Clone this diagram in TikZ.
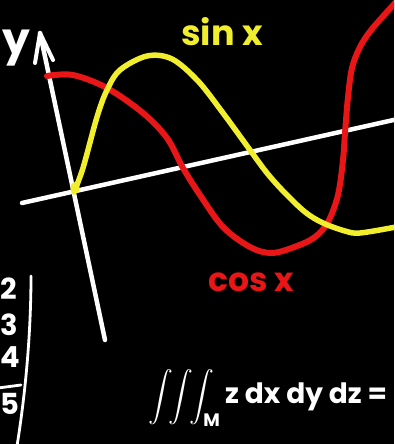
\documentclass[tikz,border=0pt]{standalone}
\usepackage{amsmath}
\usepackage{fontspec}
\setmainfont{Poppins}
\definecolor{chalkred}{RGB}{232,22,22}
\definecolor{chalkyellow}{RGB}{240,238,45}
\tikzset{
  axisline/.style={draw=white, line width=4.5pt, line cap=round, line join=round},
  sincurve/.style={draw=chalkyellow, line width=5.5pt, line cap=round},
  coscurve/.style={draw=chalkred, line width=6pt, line cap=round},
  chalktext/.style={text=white, inner sep=0pt},
  digit/.style={chalktext, anchor=west, font=\bfseries\fontsize{29}{32}\selectfont},
}
\begin{document}
\begin{tikzpicture}[x=1pt, y=-1pt]
  \fill[black] (0,0) rectangle (394,444);
  \useasboundingbox (0,0) rectangle (394,444);
  \clip (0,0) rectangle (394,444);

  % axes
  \coordinate (xl) at (22,203);
  \coordinate (xr) at (398,119);
  \coordinate (yb) at (105,340);
  \coordinate (yt) at (40,33);
  \coordinate (wl) at (35,63);
  \coordinate (wr) at (53,60);
  \draw[axisline] (xl) -- (xr);
  \draw[axisline] (yb) -- (yt);
  \draw[axisline, line width=4pt] (wl) -- (yt) -- (wr);

  % cos curve
  \draw[coscurve] plot[smooth, tension=0.55] coordinates {
    (47,76) (73,75) (107,88) (143,113) (167,138) (183,168) (200,195)
    (223,227) (250,247) (272,253) (297,246) (315,237) (328,222)
    (338,195) (343,160) (345,133) (348,97) (352,68)
    (360,47) (372,29) (396,2)};

  % sin curve
  \draw[sincurve] plot[smooth, tension=0.55] coordinates {
    (74,192) (83,168) (97,117) (107,90) (120,70) (147,56) (172,59)
    (198,81) (223,113) (250,150) (267,173) (284,192) (305,212)
    (323,223) (345,231) (360,233) (396,227)};
  \fill[chalkyellow] (75,188) ellipse (4.5pt and 6pt);

  % labels
  \node[chalktext, text=chalkyellow, font=\bfseries\fontsize{35}{40}\selectfont] (sinlbl) at (222,32) {sin x};
  \node[chalktext, text=chalkred, font=\bfseries\fontsize{33}{38}\selectfont] (coslbl) at (251,282) {cos x};
  \node[chalktext, font=\bfseries\fontsize{44}{48}\selectfont] (ylbl) at (16,48) {y};

  % left margin numbers
  \node[digit] (n2) at (0,289) {2};
  \node[digit] (n3) at (0,325) {3};
  \node[digit] (n4) at (0,357) {4};
  \node[digit] (n5) at (0,404) {5};
  \coordinate (h1) at (-2,388);
  \coordinate (h2) at (21,385);
  \draw[axisline, line width=2.8pt] (h1) -- (h2);
  \coordinate (v1) at (31,276);
  \coordinate (v2) at (17,446);
  \draw[axisline, line width=2.8pt] (v1) .. controls (31,330) and (26,390) .. (v2);

  % formula
  \node[chalktext, anchor=west, font=\fontsize{27}{30}\selectfont] (formula) at (148,398)
    {$\displaystyle\int\!\!\int\!\!\int_{\text{\bfseries\fontsize{18}{20}\selectfont M}}$\,\bfseries\fontsize{28}{30}\selectfont z dx dy dz =};
\end{tikzpicture}
\end{document}
